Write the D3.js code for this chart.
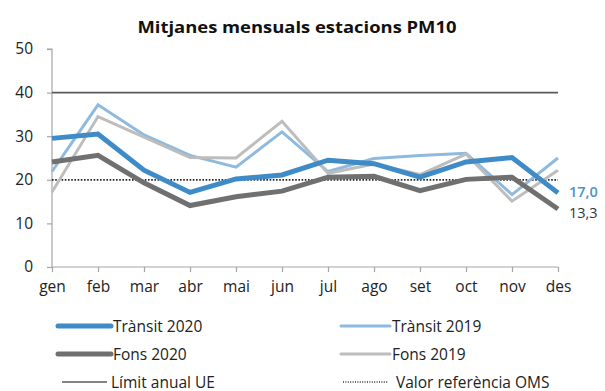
<!DOCTYPE html>
<html>
<head>
<meta charset="utf-8">
<script src="https://cdn.jsdelivr.net/npm/d3@7"></script>
<style>
  html, body { margin: 0; padding: 0; background: #fff; }
  svg { display: block; font-family: "Open Sans", Lato, sans-serif; }
</style>
</head>
<body>
<svg id="chart" width="605" height="391"></svg>
<script>
// Monthly PM10 averages (µg/m³)
const months = ["gen", "feb", "mar", "abr", "mai", "jun", "jul", "ago", "set", "oct", "nov", "des"];
const transit2020 = [29.5, 30.5, 22.2, 17.1, 20.2, 21.1, 24.5, 23.7, 20.6, 24.1, 25.1, 17.0];
const transit2019 = [21.9, 37.2, 30.3, 25.6, 22.9, 31.0, 21.9, 24.9, 25.6, 26.1, 16.6, 25.0];
const fons2020 = [24.1, 25.6, 19.3, 14.1, 16.1, 17.4, 20.6, 20.8, 17.5, 20.1, 20.6, 13.3];
const fons2019 = [17.2, 34.5, 29.8, 25.1, 25.0, 33.4, 21.5, 23.6, 21.2, 25.9, 15.1, 22.2];
const yTicks = [0, 10, 20, 30, 40, 50];
const euLimit = 40;
const whoReference = 20;

const font = "'Open Sans', Lato, sans-serif";
const svg = d3.select("#chart");
const x = d3.scalePoint().domain(months).range([52, 558]);
const y = d3.scaleLinear().domain([0, 50]).range([267, 49]);

// Title
svg.append("text")
  .attr("x", 297).attr("y", 33)
  .attr("text-anchor", "middle")
  .attr("font-size", 16.5).attr("font-weight", "bold").attr("fill", "#111")
  .attr("textLength", 319).attr("lengthAdjust", "spacingAndGlyphs")
  .text("Mitjanes mensuals estacions PM10");

// Axes
const yAxis = svg.append("g").attr("transform", "translate(52,0)")
  .call(d3.axisLeft(y).tickValues(yTicks).tickSize(5).tickPadding(14));
const xAxis = svg.append("g").attr("transform", `translate(0,${y(0)})`)
  .call(d3.axisBottom(x).tickSize(5).tickPadding(9));
[yAxis, xAxis].forEach(g => {
  g.select(".domain").attr("stroke", "#a6a6a6").attr("stroke-width", 1.2);
  g.selectAll(".tick line").attr("stroke", "#a6a6a6").attr("stroke-width", 1.2);
  g.selectAll(".tick text").attr("font-size", 15.5).attr("fill", "#222")
    .attr("font-family", font);
});
yAxis.select(".domain").attr("d", `M-5,${y(50)}H0V${y(0)}`);
xAxis.select(".domain").attr("d", `M${x(months[0])},0H${x(months[11])}`);

// Reference lines
svg.append("line")
  .attr("x1", x(months[0])).attr("x2", x(months[11]))
  .attr("y1", y(euLimit)).attr("y2", y(euLimit))
  .attr("stroke", "#5a5a5a").attr("stroke-width", 1.6);
svg.append("line")
  .attr("x1", x(months[0])).attr("x2", x(months[11]))
  .attr("y1", y(whoReference)).attr("y2", y(whoReference))
  .attr("stroke", "#222").attr("stroke-width", 1.8).attr("stroke-dasharray", "1.6,1.6");

// Series
const series = [
  { name: "Trànsit 2019", values: transit2019, color: "#8dbade", width: 3 },
  { name: "Fons 2019", values: fons2019, color: "#bdbdbd", width: 3 },
  { name: "Fons 2020", values: fons2020, color: "#707070", width: 5 },
  { name: "Trànsit 2020", values: transit2020, color: "#3e8bc7", width: 5 }
];
const line = d3.line().x((d, i) => x(months[i])).y(d => y(d));
series.forEach(s => {
  svg.append("path").datum(s.values)
    .attr("d", line).attr("fill", "none")
    .attr("stroke", s.color).attr("stroke-width", s.width)
    .attr("stroke-linejoin", "miter");
});

// End labels for 2020
const fmt = v => d3.format(".1f")(v).replace(".", ",");
svg.append("text").attr("x", 569).attr("y", y(transit2020[11]) + 4)
  .attr("font-size", 14.5).attr("font-weight", 600).attr("fill", "#4a93cc")
  .text(fmt(transit2020[11]));
svg.append("text").attr("x", 569).attr("y", y(fons2020[11]) + 8.5)
  .attr("font-size", 14.5).attr("fill", "#333")
  .text(fmt(fons2020[11]));

// Legend
const legend = [
  { label: "Trànsit 2020", color: "#3e8bc7", width: 5, x: 58, lx2: 111, y: 326 },
  { label: "Trànsit 2019", color: "#8dbade", width: 3, x: 341, lx2: 390, y: 326 },
  { label: "Fons 2020", color: "#707070", width: 5, x: 58, lx2: 111, y: 354 },
  { label: "Fons 2019", color: "#bdbdbd", width: 3, x: 341, lx2: 390, y: 354 },
  { label: "Límit anual UE", color: "#5a5a5a", width: 1.4, x: 62, lx2: 107, y: 382 },
  { label: "Valor referència OMS", color: "#333", width: 1.4, x: 343, lx2: 388, y: 382, dash: "1,1.4" }
];
legend.forEach(l => {
  svg.append("line")
    .attr("x1", l.x).attr("x2", l.lx2).attr("y1", l.y).attr("y2", l.y)
    .attr("stroke", l.color).attr("stroke-width", l.width)
    .attr("stroke-linecap", l.width > 2 ? "round" : "butt")
    .attr("stroke-dasharray", l.dash || null);
  svg.append("text")
    .attr("x", l.lx2 + (l.dash ? 8 : (l.width > 2 ? 2 : 4))).attr("y", l.y + 5.5)
    .attr("font-size", 15.5).attr("fill", "#222")
    .text(l.label);
});
</script>
</body>
</html>
